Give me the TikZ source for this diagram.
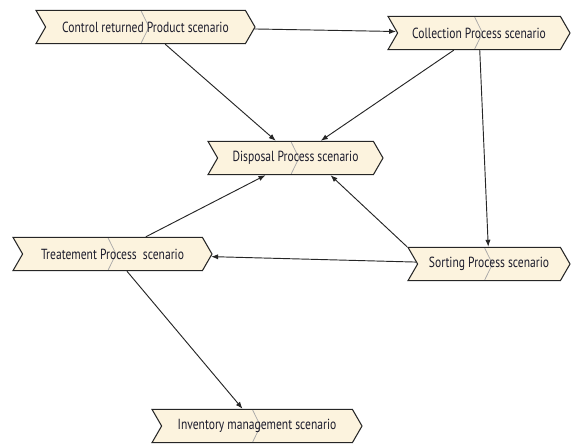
\documentclass[tikz,border=0pt]{standalone}
\usepackage{fontspec}
\setmainfont{PT Sans}[FakeStretch=0.79]
\usepackage{xcolor}
\usetikzlibrary{shapes.symbols,arrows.meta}

\definecolor{stepfill}{HTML}{FCF3DE}
\definecolor{steptext}{HTML}{1C1C2C}

\begin{document}
\begin{tikzpicture}[
    x=0.03cm, y=-0.03cm,
    scen/.style={signal, signal from=west, signal to=east, signal pointer angle=120,
                 draw=black!85, line width=0.9pt, fill=stepfill, minimum height=1cm, inner sep=1pt,
                 text=steptext, font=\fontsize{12.5}{14}\selectfont,
                 path picture={\draw[gray!70, line width=0.6pt]
                     ([xshift=-4pt]path picture bounding box.north) --
                     ([xshift=3pt]path picture bounding box.center) --
                     ([xshift=-4pt]path picture bounding box.south);}},
    arrow/.style={-{Latex[length=6pt,width=4.5pt]}, black!85, line width=0.8pt}
]
    \useasboundingbox (0,0) rectangle (571,444);

    % scenarios
    \node[scen, minimum width=6.57cm] (ctrl) at (145.5,27) {Control returned Product scenario};
    \node[scen, minimum width=5.46cm] (coll) at (479,33) {Collection Process scenario};
    \node[scen, minimum width=5.25cm] (disp) at (295.5,158) {Disposal Process scenario};
    \node[scen, minimum width=5.97cm] (treat) at (112.5,254) {Treatement Process\ \ scenario};
    \node[scen, minimum width=4.86cm] (sort) at (489,264) {Sorting Process scenario};
    \node[scen, minimum width=6.30cm] (inv) at (257,426) {Inventory management scenario};

    % flows
    \draw[arrow] (ctrl) -- (coll);
    \draw[arrow] (ctrl) -- (disp);
    \draw[arrow] (coll) -- (disp);
    \draw[arrow] (coll) -- (sort);
    \draw[arrow] (sort.north west) -- ([xshift=1.05cm]disp.south);
    \draw[arrow] (sort) -- (treat);
    \draw[arrow] ([xshift=1cm]treat.north) -- ([xshift=-0.9cm]disp.south);
    \draw[arrow] (treat) -- (inv);

\end{tikzpicture}
\end{document}
